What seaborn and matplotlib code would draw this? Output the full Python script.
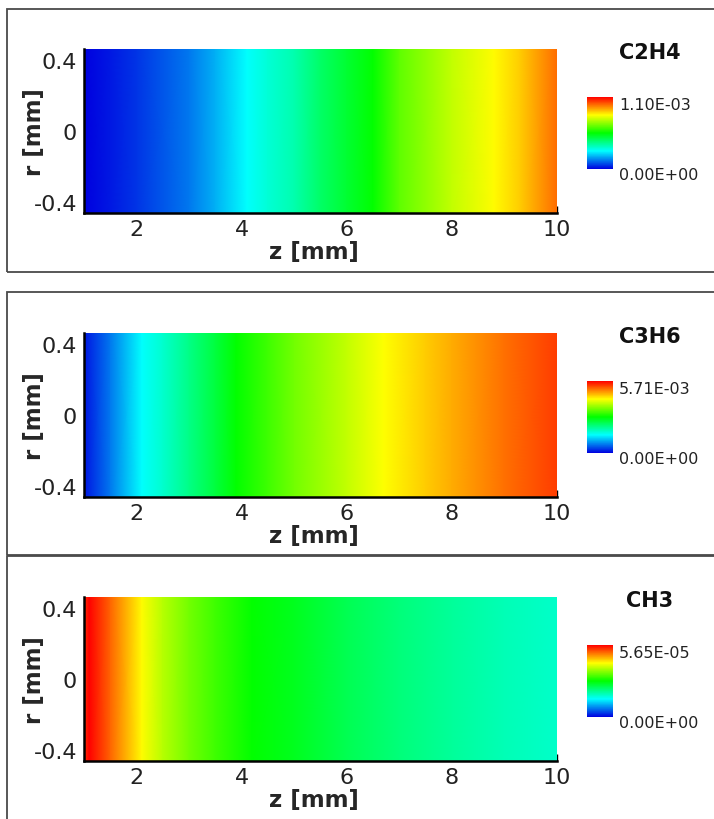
import numpy as np
import matplotlib
matplotlib.use("Agg")
import matplotlib.pyplot as plt
import seaborn as sns
from matplotlib.colors import LinearSegmentedColormap
from matplotlib.patches import Rectangle
from matplotlib.ticker import MultipleLocator

# ---- data ----
species = ["C2H4", "C3H6", "CH3"]
vmax_list = [1.10e-03, 5.71e-03, 5.65e-05]
vmax_labels = ["1.10E-03", "5.71E-03", "5.65E-05"]
vmin_label = "0.00E+00"
r_pts = [-0.47, 0.47]

z_c2h4 = [1.0, 1.5, 2.0, 3.0, 3.5, 4.1, 4.5, 5.0, 5.5, 6.0, 6.5, 7.0, 8.0, 8.8, 9.3, 10.0]
c_c2h4 = [0.0, 0.03e-3, 0.06e-3, 0.13e-3, 0.19e-3, 0.275e-3, 0.319e-3, 0.363e-3, 0.44e-3,
          0.495e-3, 0.55e-3, 0.649e-3, 0.759e-3, 0.825e-3, 0.88e-3, 0.98e-3]

z_c3h6 = [1.0, 1.5, 2.1, 2.5, 3.0, 3.5, 3.9, 4.5, 5.0, 6.0, 6.7, 7.5, 8.0, 9.0, 10.0]
c_c3h6 = [0.114e-3, 0.685e-3, 1.43e-3, 1.71e-3, 2.11e-3, 2.51e-3, 2.86e-3, 3.20e-3,
          3.48e-3, 3.94e-3, 4.28e-3, 4.57e-3, 4.74e-3, 5.08e-3, 5.37e-3]

z_ch3 = [1.0, 1.1, 1.5, 2.1, 2.5, 3.0, 3.5, 4.2, 5.0, 6.0, 7.0, 8.0, 9.0, 10.0]
c_ch3 = [5.37e-5, 5.65e-5, 5.09e-5, 4.24e-5, 3.84e-5, 3.45e-5, 3.16e-5, 2.83e-5,
         2.66e-5, 2.37e-5, 2.15e-5, 1.98e-5, 1.81e-5, 1.70e-5]

profiles = [(z_c2h4, c_c2h4), (z_c3h6, c_c3h6), (z_ch3, c_ch3)]

x_ticks = [2, 4, 6, 8, 10]
y_ticks = [-0.4, 0, 0.4]
y_ticklabels = ["-0.4", "0", "0.4"]

# ---- style ----
sns.set_theme(style="white")
plt.rcParams["font.family"] = ["DejaVu Sans"]

cmap = LinearSegmentedColormap.from_list(
    "tecrainbow", ["#0000e0", "#00ffff", "#00ff00", "#ffff00", "#ff0000"])

W, H = 714, 820
fig = plt.figure(figsize=(W / 100, H / 100), dpi=100)
fig.patch.set_facecolor("white")

def fx(px):
    return px / W

def fy(py):
    return 1 - py / H

# panel layout (pixel coords in reference)
plot_tops = [50, 334, 598]
plot_h = 164
frame_tops = [10, 293, 557]
frame_bots = [273, 556, 830]
cbar_tops = [98, 382, 646]
cbar_h = 72

for i, (name, (zz, cc)) in enumerate(zip(species, profiles)):
    # frame
    fig.add_artist(Rectangle((fx(7), fy(frame_bots[i])), fx(730) - fx(7),
                             fy(frame_tops[i]) - fy(frame_bots[i]),
                             transform=fig.transFigure, fill=False,
                             edgecolor="#4a4a4a", linewidth=1.3, zorder=0))

    ax = fig.add_axes([fx(84), fy(plot_tops[i] + plot_h), fx(557) - fx(84), plot_h / H])
    Z, R = np.meshgrid(np.array(zz), np.array(r_pts))
    C = np.vstack([np.array(cc)] * len(r_pts))
    mesh = ax.pcolormesh(Z, R, C, cmap=cmap, vmin=0, vmax=vmax_list[i], shading="gouraud")
    ax.set_xlim(1, 10)
    ax.set_ylim(-0.465, 0.465)
    ax.set_xticks(x_ticks)
    ax.set_xticklabels([str(t) for t in x_ticks])
    ax.set_yticks(y_ticks)
    ax.set_yticklabels(y_ticklabels)
    ax.xaxis.set_minor_locator(MultipleLocator(0.5))
    ax.yaxis.set_minor_locator(MultipleLocator(0.1))
    ax.tick_params(axis="both", which="major", direction="in", length=5, width=1,
                   labelsize=16, colors="black", bottom=True, left=True)
    ax.tick_params(axis="x", which="major", pad=4)
    ax.tick_params(axis="y", which="major", pad=5)
    ax.tick_params(axis="both", which="minor", direction="in", length=3, width=0.8,
                   bottom=True, left=True)
    for t in ax.get_xticklabels() + ax.get_yticklabels():
        t.set_color("#222222")
    for s in ["top", "right"]:
        ax.spines[s].set_visible(False)
    for s in ["left", "bottom"]:
        ax.spines[s].set_color("black")
        ax.spines[s].set_linewidth(1.8)
    ax.set_xlabel("z [mm]", fontsize=16.5, fontweight="bold")
    ax.set_ylabel("r [mm]", fontsize=16.5, fontweight="bold")
    ax.xaxis.set_label_coords(0.486, -0.165)
    ax.yaxis.set_label_coords(-0.08, 0.5)

    # title
    fig.text(fx(650), fy(plot_tops[i] + 3), name, fontsize=15, fontweight="bold",
             ha="center", va="center", color="#111111")

    # colorbar
    cax = fig.add_axes([fx(587), fy(cbar_tops[i] + cbar_h), fx(613) - fx(587), cbar_h / H])
    cb = fig.colorbar(mesh, cax=cax, ticks=[])
    cb.outline.set_visible(False)
    fig.text(fx(619), fy(cbar_tops[i] + 8), vmax_labels[i], fontsize=11.5,
             ha="left", va="center", color="#222222")
    fig.text(fx(619), fy(cbar_tops[i] + cbar_h + 6), vmin_label, fontsize=11.5,
             ha="left", va="center", color="#222222")

fig.savefig("out.png", dpi=100, facecolor="white")
